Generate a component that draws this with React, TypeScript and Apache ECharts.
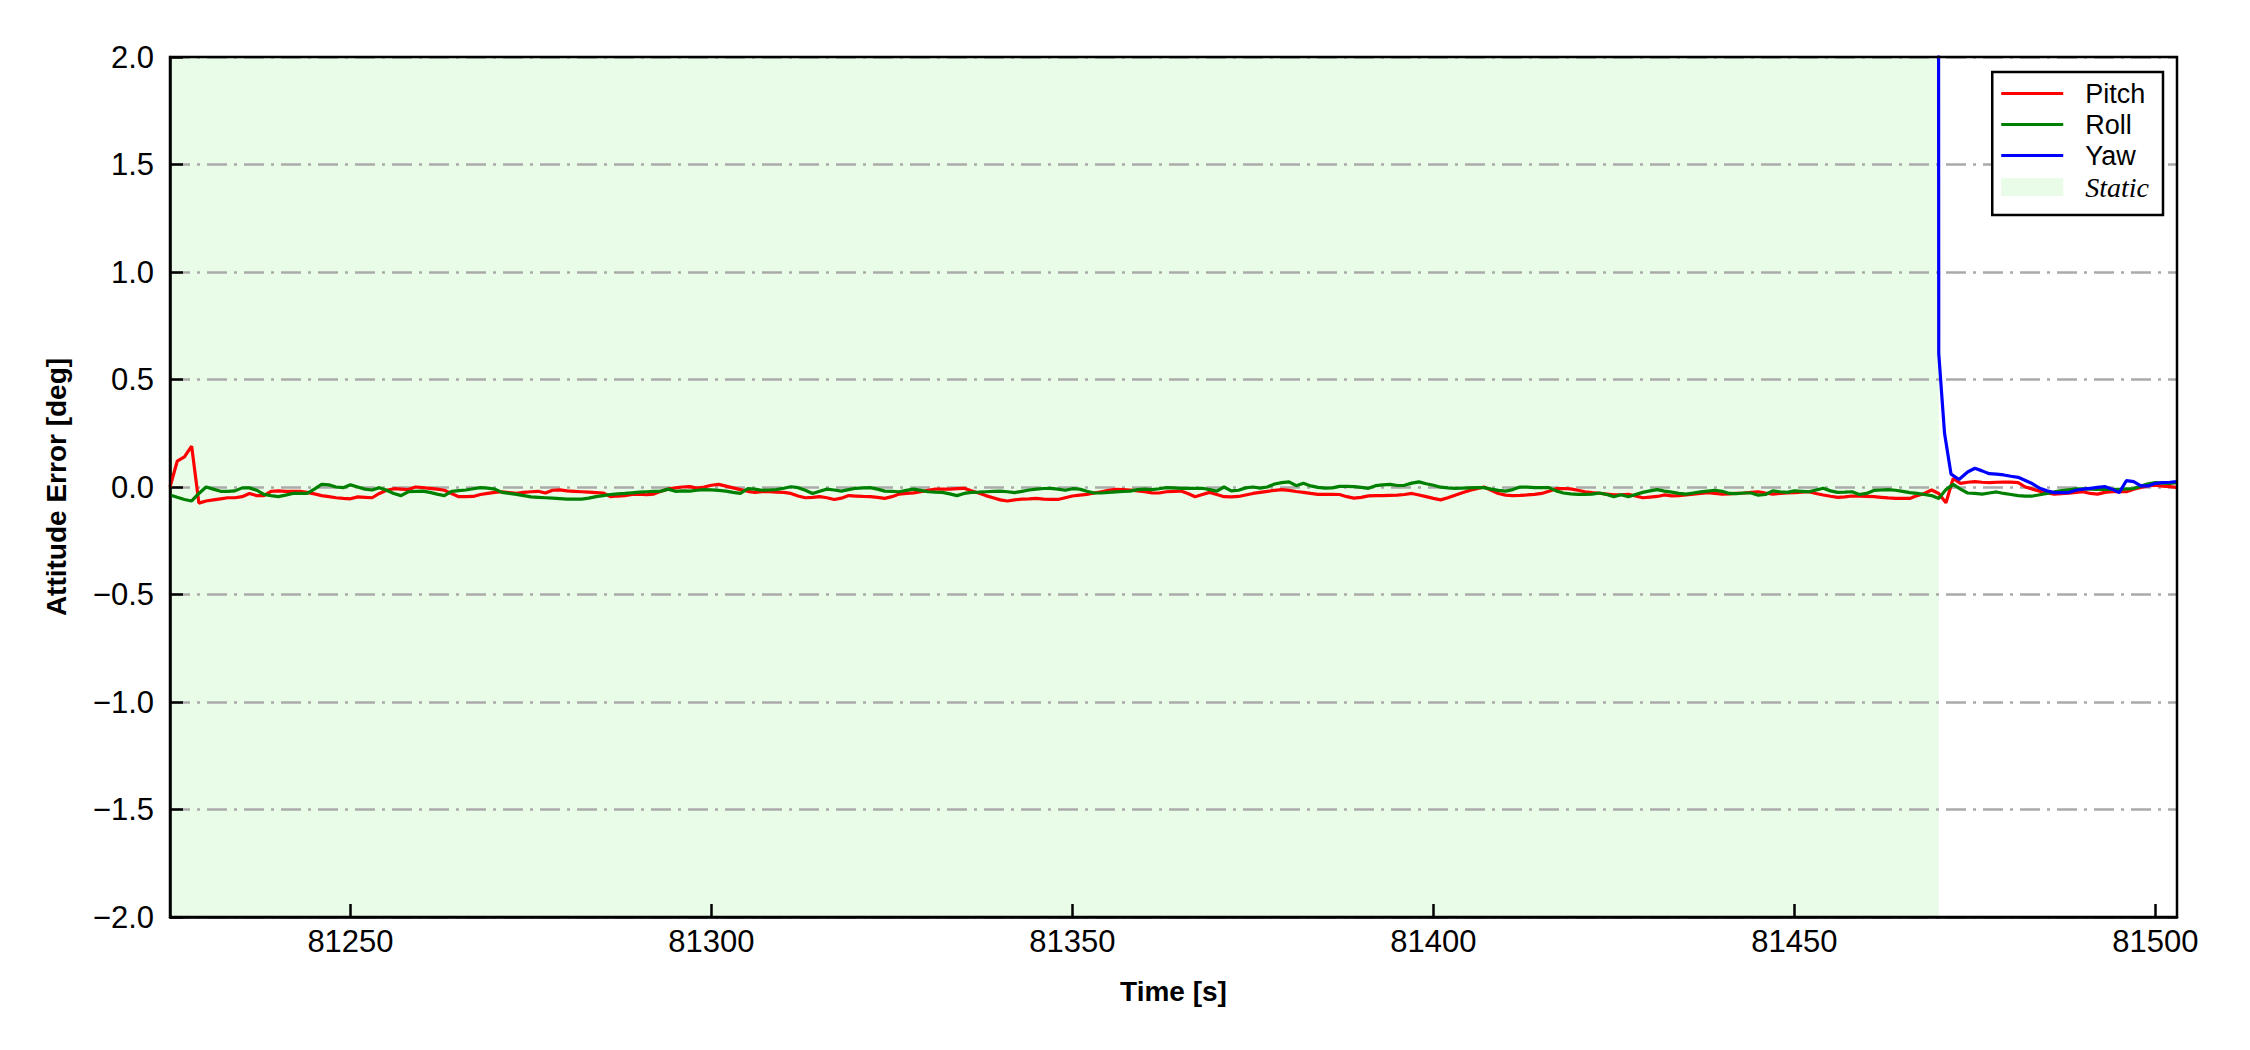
import React, { useEffect, useRef } from "react";
import * as echarts from "echarts";

const xMin = 81225;
const xMax = 81503;
const xTicks = [81250, 81300, 81350, 81400, 81450, 81500];
const yMin = -2;
const yMax = 2;
const yStep = 0.5;
const staticRange = [81225, 81470];
const sampleStart = 81225;
const sampleStep = 1;

const pitch = [
  0.0, 0.12, 0.14, 0.19, -0.075, -0.065, -0.06, -0.055, -0.05, -0.05,
  -0.045, -0.03, -0.04, -0.04, -0.02, -0.018, -0.02, -0.02, -0.02, -0.025,
  -0.032, -0.04, -0.045, -0.05, -0.053, -0.055, -0.046, -0.048, -0.05, -0.03,
  -0.015, -0.008, -0.01, -0.012, 0.0, -0.003, -0.006, -0.01, -0.015, -0.03,
  -0.045, -0.045, -0.044, -0.035, -0.03, -0.025, -0.022, -0.026, -0.03, -0.025,
  -0.022, -0.02, -0.028, -0.015, -0.013, -0.018, -0.02, -0.022, -0.024, -0.026,
  -0.028, -0.045, -0.042, -0.04, -0.035, -0.033, -0.036, -0.033, -0.02, -0.01,
  -0.004, 0.0, 0.002, -0.005, 0.0, 0.008, 0.012, 0.004, -0.004, -0.012,
  -0.02, -0.025, -0.022, -0.022, -0.024, -0.025, -0.03, -0.042, -0.05, -0.048,
  -0.045, -0.05, -0.058, -0.052, -0.04, -0.042, -0.044, -0.045, -0.048, -0.053,
  -0.045, -0.033, -0.03, -0.027, -0.022, -0.016, -0.01, -0.01, -0.01, -0.008,
  -0.006, -0.018, -0.028, -0.04, -0.05, -0.06, -0.065, -0.06, -0.056, -0.055,
  -0.053, -0.056, -0.058, -0.058, -0.05, -0.042, -0.038, -0.034, -0.028, -0.022,
  -0.016, -0.011, -0.012, -0.014, -0.018, -0.022, -0.027, -0.028, -0.022, -0.02,
  -0.019, -0.03, -0.045, -0.035, -0.025, -0.035, -0.045, -0.046, -0.044, -0.037,
  -0.03, -0.025, -0.02, -0.016, -0.012, -0.016, -0.021, -0.025, -0.03, -0.034,
  -0.034, -0.034, -0.035, -0.045, -0.052, -0.048, -0.041, -0.04, -0.04, -0.039,
  -0.038, -0.035, -0.03, -0.037, -0.045, -0.053, -0.06, -0.05, -0.038, -0.027,
  -0.016, -0.008, 0.0, -0.015, -0.03, -0.038, -0.04, -0.039, -0.037, -0.034,
  -0.03, -0.02, -0.008, -0.007, -0.009, -0.015, -0.022, -0.026, -0.029, -0.033,
  -0.037, -0.036, -0.034, -0.042, -0.05, -0.047, -0.044, -0.037, -0.041, -0.04,
  -0.037, -0.033, -0.03, -0.026, -0.03, -0.033, -0.032, -0.03, -0.028, -0.025,
  -0.022, -0.028, -0.033, -0.03, -0.027, -0.026, -0.024, -0.022, -0.03, -0.037,
  -0.043, -0.048, -0.046, -0.042, -0.043, -0.044, -0.045, -0.048, -0.051, -0.053,
  -0.053, -0.053, -0.04, -0.03, -0.014, -0.03, -0.073, 0.04, 0.017, 0.022,
  0.025, 0.022, 0.02, 0.022, 0.023, 0.023, 0.02, 0.0, -0.01, -0.02,
  -0.028, -0.033, -0.031, -0.029, -0.025, -0.022, -0.03, -0.033, -0.025, -0.022,
  -0.022, -0.022, -0.01, -0.002, 0.006, 0.008, 0.004, 0.002, -0.002,
];

const roll = [
  -0.037, -0.048, -0.058, -0.065, -0.03, 0.0, -0.01, -0.02, -0.02, -0.018,
  -0.004, -0.004, -0.015, -0.034, -0.04, -0.045, -0.038, -0.03, -0.03, -0.03,
  -0.01, 0.012, 0.01, 0.0, -0.003, 0.01, 0.0, -0.01, -0.014, -0.003,
  -0.015, -0.03, -0.04, -0.022, -0.02, -0.019, -0.025, -0.033, -0.04, -0.02,
  -0.017, -0.014, -0.008, -0.003, -0.005, -0.01, -0.025, -0.03, -0.034, -0.04,
  -0.046, -0.048, -0.05, -0.052, -0.054, -0.056, -0.056, -0.056, -0.052, -0.045,
  -0.04, -0.035, -0.032, -0.03, -0.027, -0.024, -0.022, -0.02, -0.019, -0.01,
  -0.02, -0.018, -0.019, -0.015, -0.012, -0.013, -0.016, -0.019, -0.025, -0.03,
  -0.008, -0.01, -0.015, -0.014, -0.012, -0.006, 0.001, -0.003, -0.015, -0.03,
  -0.02, -0.01, -0.014, -0.019, -0.012, -0.006, -0.004, -0.003, -0.01, -0.019,
  -0.02, -0.022, -0.016, -0.01, -0.016, -0.022, -0.024, -0.025, -0.032, -0.04,
  -0.03, -0.025, -0.024, -0.022, -0.02, -0.019, -0.022, -0.026, -0.02, -0.014,
  -0.01, -0.007, -0.006, -0.01, -0.015, -0.008, -0.01, -0.02, -0.028, -0.028,
  -0.025, -0.023, -0.021, -0.019, -0.012, -0.01, -0.012, -0.008, -0.003, -0.004,
  -0.006, -0.006, -0.006, -0.006, -0.012, -0.019, 0.0, -0.018, -0.015, -0.004,
  0.0, -0.005, 0.0, 0.014, 0.02, 0.024, 0.006, 0.017, 0.005, -0.002,
  -0.005, -0.004, 0.003, 0.003, 0.002, -0.002, -0.006, 0.006, 0.01, 0.012,
  0.007, 0.008, 0.018, 0.024, 0.015, 0.008, -0.001, -0.004, -0.006, -0.005,
  -0.004, -0.003, -0.003, -0.01, -0.016, -0.019, -0.012, 0.0, -0.001, -0.003,
  -0.003, -0.003, -0.018, -0.028, -0.032, -0.034, -0.034, -0.033, -0.028, -0.035,
  -0.045, -0.036, -0.045, -0.035, -0.025, -0.018, -0.012, -0.019, -0.024, -0.03,
  -0.033, -0.028, -0.023, -0.019, -0.015, -0.02, -0.03, -0.031, -0.028, -0.028,
  -0.038, -0.035, -0.018, -0.022, -0.025, -0.018, -0.02, -0.022, -0.014, -0.006,
  -0.018, -0.025, -0.024, -0.022, -0.035, -0.03, -0.016, -0.014, -0.012, -0.015,
  -0.02, -0.026, -0.03, -0.035, -0.04, -0.053, -0.012, 0.012, -0.01, -0.028,
  -0.03, -0.033, -0.028, -0.023, -0.03, -0.035, -0.04, -0.042, -0.042, -0.036,
  -0.03, -0.023, -0.017, -0.013, -0.009, -0.009, -0.01, -0.011, -0.011, -0.011,
  -0.011, -0.009, -0.007, 0.004, 0.015, 0.02, 0.018, 0.017, 0.02,
];

const yawTime = [
  81469.8, 81470.0, 81470.8, 81471.7, 81472.8,
  81474, 81475, 81476, 81477, 81478, 81479, 81480, 81481, 81482, 81483,
  81484, 81485, 81486, 81487, 81488, 81489, 81490, 81491, 81492, 81493,
  81494, 81495, 81496, 81497, 81498, 81499, 81500, 81501, 81502, 81503,
];
const yaw = [
  12, 0.62, 0.25, 0.06, 0.035,
  0.07, 0.087, 0.075, 0.062, 0.06, 0.056, 0.05, 0.045, 0.03, 0.015,
  -0.006, -0.018, -0.026, -0.026, -0.026, -0.015, -0.01, -0.006, -0.002, 0.002,
  -0.01, -0.026, 0.03, 0.025, 0.005, 0.005, 0.017, 0.02, 0.022, 0.025,
];

const seriesNames = ["Pitch", "Roll", "Yaw", "Static"];
const seriesColors = ["#ff0000", "#008000", "#0000ff", "#e8fce8"];

export default function App() {
  const ref = useRef<HTMLDivElement>(null);
  useEffect(() => {
    document.body.style.margin = "0";
    const chart = echarts.init(ref.current as HTMLDivElement, null, { renderer: "svg" });
    const sans = "'Liberation Sans', Arial, sans-serif";
    const serif = "'Liberation Serif', 'Times New Roman', serif";
    const lineIcon = "path://M0,0L62,0L62,3.2L0,3.2Z";
    const toPairs = (vals: number[]) => vals.map((v, i) => [sampleStart + i * sampleStep, v]);
    const yawPairs = yawTime.map((t, i) => [t, yaw[i]]);
    const lineSeries = (name: string, color: string, data: number[][]) => ({
      name,
      type: "line",
      data,
      symbol: "none",
      showSymbol: false,
      clip: true,
      z: 3,
      color,
      lineStyle: { color, width: 3.2 },
      itemStyle: { color },
    });
    chart.setOption({
      animation: false,
      backgroundColor: "#ffffff",
      grid: {
        left: 170,
        right: 73,
        top: 57,
        bottom: 133,
        show: true,
        z: 5,
        borderColor: "#000",
        borderWidth: 2.5,
        backgroundColor: "transparent",
      },
      legend: {
        orient: "vertical",
        right: 87,
        top: 72,
        z: 6,
        selectedMode: false,
        itemWidth: 62,
        itemHeight: 18,
        itemGap: 4,
        padding: [8, 14, 14, 9],
        borderColor: "#000",
        borderWidth: 2.5,
        borderRadius: 0,
        backgroundColor: "#ffffff",
        itemStyle: { borderWidth: 0 },
        textStyle: { fontFamily: sans, fontSize: 27, color: "#000", lineHeight: 27, padding: [0, 0, 0, 17] },
        data: [
          { name: seriesNames[0], icon: lineIcon, itemStyle: { color: seriesColors[0], borderWidth: 0 } },
          { name: seriesNames[1], icon: lineIcon, itemStyle: { color: seriesColors[1], borderWidth: 0 } },
          { name: seriesNames[2], icon: lineIcon, itemStyle: { color: seriesColors[2], borderWidth: 0 } },
          {
            name: seriesNames[3],
            icon: "rect",
            itemStyle: { color: seriesColors[3], opacity: 1, borderWidth: 0 },
            textStyle: { fontFamily: serif, fontStyle: "italic", fontSize: 28, color: "#000" },
          },
        ],
      },
      xAxis: {
        type: "value",
        min: xMin,
        max: xMax,
        z: 1,
        name: "Time [s]",
        nameLocation: "middle",
        nameGap: 60,
        nameTextStyle: { fontFamily: sans, fontWeight: "bold", fontSize: 28, color: "#000" },
        axisLine: { show: true, onZero: false, lineStyle: { color: "#000", width: 2.5 } },
        axisTick: { show: true, inside: true, length: 13, customValues: xTicks, lineStyle: { color: "#000", width: 2.5 } },
        axisLabel: {
          customValues: xTicks,
          fontFamily: sans,
          fontSize: 31,
          color: "#000",
          margin: 9,
          formatter: (v: number) => String(v),
        },
        splitLine: { show: false },
      },
      yAxis: {
        type: "value",
        min: yMin,
        max: yMax,
        interval: yStep,
        z: 1,
        name: "Attitude Error [deg]",
        nameLocation: "middle",
        nameGap: 100,
        nameRotate: 90,
        nameTextStyle: { fontFamily: sans, fontWeight: "bold", fontSize: 28, color: "#000" },
        axisLine: { show: true, onZero: false, lineStyle: { color: "#000", width: 2.5 } },
        axisTick: { show: true, inside: true, length: 13, lineStyle: { color: "#000", width: 2.5 } },
        axisLabel: {
          fontFamily: sans,
          fontSize: 31,
          color: "#000",
          margin: 16,
          formatter: (v: number) => (v < 0 ? "\u2212" : "") + Math.abs(v).toFixed(1),
        },
        splitLine: { show: true, lineStyle: { color: "#aaaaaa", width: 2.5, type: [20, 7, 3, 7] } },
      },
      series: [
        lineSeries(seriesNames[0], seriesColors[0], toPairs(pitch)),
        lineSeries(seriesNames[1], seriesColors[1], toPairs(roll)),
        lineSeries(seriesNames[2], seriesColors[2], yawPairs),
        {
          name: seriesNames[3],
          type: "line",
          data: [
            [staticRange[0], 0],
            [staticRange[1], 0],
          ],
          symbol: "none",
          z: 0,
          color: seriesColors[3],
          lineStyle: { width: 0, color: seriesColors[3] },
          itemStyle: { color: seriesColors[3] },
          silent: true,
          markArea: {
            silent: true,
            z: -1,
            itemStyle: { color: seriesColors[3], opacity: 1 },
            data: [[{ xAxis: staticRange[0] }, { xAxis: staticRange[1] }]],
          },
        },
      ],
    });
    return () => chart.dispose();
  }, []);
  return <div ref={ref} style={{ width: 2250, height: 1050 }} />;
}
